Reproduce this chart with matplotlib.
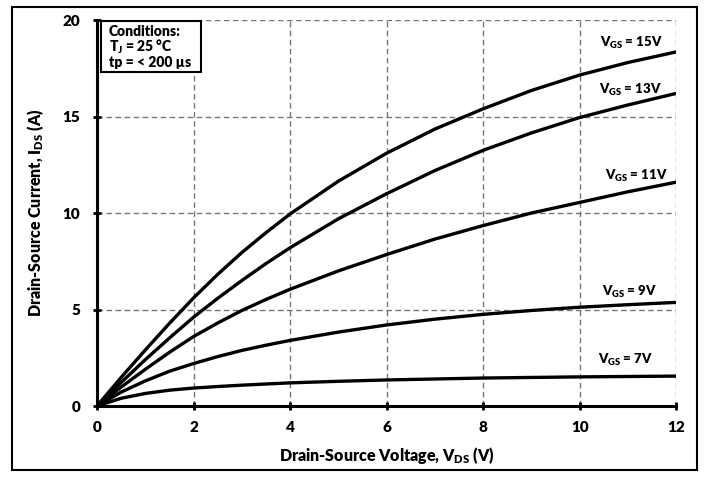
import matplotlib
matplotlib.use("Agg")
import matplotlib.pyplot as plt
from matplotlib.patches import Rectangle

plt.rcParams['font.family'] = ['Lato', 'DejaVu Sans']
plt.rcParams['font.weight'] = 'heavy'
plt.rcParams['mathtext.fontset'] = 'custom'
plt.rcParams['mathtext.rm'] = 'Lato:heavy'
plt.rcParams['mathtext.bf'] = 'Lato:heavy'
plt.rcParams['mathtext.it'] = 'Lato:heavy'

vds = [0, 0.5, 1, 1.5, 2, 2.5, 3, 3.5, 4, 5, 6, 7, 8, 9, 10, 11, 12]
id_15 = [0, 1.48, 2.9, 4.28, 5.6, 6.82, 7.95, 8.98, 9.95, 11.65, 13.1, 14.35, 15.4, 16.35, 17.15, 17.8, 18.35]
id_13 = [0, 1.22, 2.4, 3.52, 4.6, 5.58, 6.5, 7.38, 8.2, 9.7, 11.0, 12.2, 13.25, 14.15, 14.95, 15.6, 16.2]
id_11 = [0, 0.98, 1.9, 2.78, 3.6, 4.3, 4.95, 5.52, 6.05, 7.0, 7.85, 8.65, 9.35, 10.0, 10.55, 11.1, 11.6]
id_9 = [0, 0.72, 1.3, 1.8, 2.2, 2.56, 2.88, 3.15, 3.4, 3.83, 4.2, 4.5, 4.75, 4.95, 5.12, 5.25, 5.37]
id_7 = [0, 0.4, 0.65, 0.82, 0.93, 1.01, 1.08, 1.14, 1.2, 1.28, 1.35, 1.4, 1.45, 1.48, 1.51, 1.53, 1.55]

series = [("15V", id_15), ("13V", id_13), ("11V", id_11), ("9V", id_9), ("7V", id_7)]
label_pos = {"15V": (11.73, 18.8), "13V": (11.71, 16.4), "11V": (11.82, 11.9),
             "9V": (11.61, 5.9), "7V": (11.52, 2.4)}

xticks = [0, 2, 4, 6, 8, 10, 12]
yticks = [0, 5, 10, 15, 20]

fig = plt.figure(figsize=(7.08, 4.78), dpi=100)
ax = fig.add_axes([0.137, 0.1506, 0.818, 0.8074])

for name, vals in series:
    ax.plot(vds, vals, color='black', lw=2.4, solid_capstyle='butt',
            solid_joinstyle='round', zorder=3)
    lx, ly = label_pos[name]
    ax.text(lx, ly, r'V$_{\mathregular{GS}}$ = ' + name, ha='right', va='center',
            fontsize=9.5, fontweight='heavy', zorder=4)

ax.set_xlim(0, 12)
ax.set_ylim(0, 20)
ax.set_xticks(xticks)
ax.set_yticks(yticks)
ax.grid(True, color='#777777', linestyle=(0, (4, 2.5)), lw=1.0)
ax.set_axisbelow(True)
for s in ['top', 'right']:
    ax.spines[s].set_visible(False)
for s in ['left', 'bottom']:
    ax.spines[s].set_linewidth(2.2)
ax.tick_params(axis='x', direction='inout', length=6, width=2, labelsize=11, pad=8)
ax.tick_params(axis='y', direction='inout', length=6, width=2, labelsize=11, pad=9)
for lab in ax.get_xticklabels() + ax.get_yticklabels():
    lab.set_fontweight('heavy')

ax.set_xlabel(r'Drain-Source Voltage, V$_{\mathregular{DS}}$ (V)', fontsize=11.5,
              fontweight='heavy', labelpad=8)
ax.set_ylabel(r'Drain-Source Current, I$_{\mathregular{DS}}$ (A)', fontsize=11.5,
              fontweight='heavy', labelpad=12)

ax.add_patch(Rectangle((0.08, 17.3), 2.08, 2.65, fc='white', ec='black',
                       lw=1.5, zorder=5, clip_on=False))
ax.text(0.24, 19.75, 'Conditions:\nT$_{\\mathregular{J}}$ = 25 °C\ntp = < 200 µs',
        ha='left', va='top', fontsize=10, fontweight='heavy', linespacing=1.0,
        zorder=6)

fig.patches.append(Rectangle((12 / 708, 1 - 470 / 478), 685 / 708, 463 / 478,
                             transform=fig.transFigure, fill=False,
                             ec='black', lw=1.5))

fig.savefig('out.png', dpi=100)
